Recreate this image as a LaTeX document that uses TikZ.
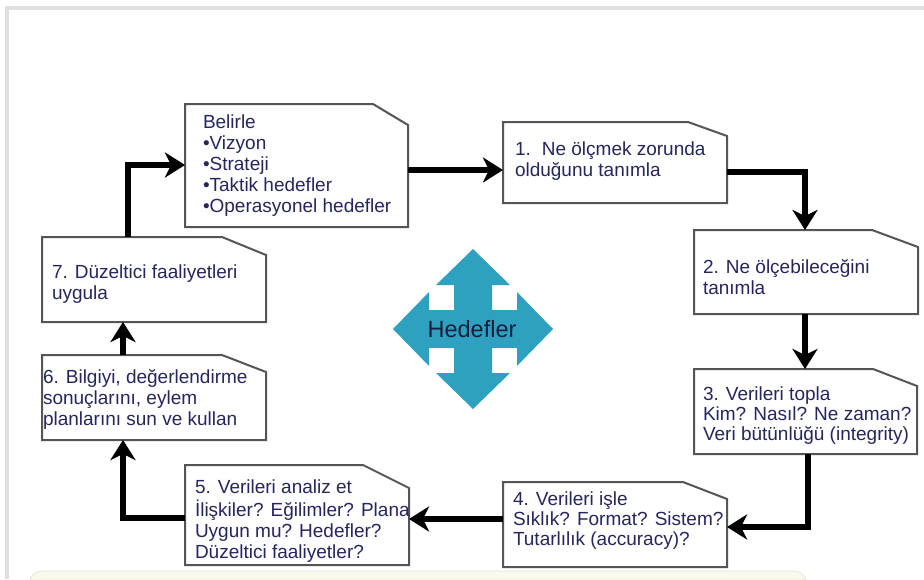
\documentclass[tikz,border=0pt]{standalone}
\usepackage{fontspec}
\setmainfont{Liberation Sans}
\usetikzlibrary{arrows.meta,calc}
\definecolor{navy}{RGB}{38,38,95}
\definecolor{boxline}{RGB}{85,85,85}
\definecolor{tealarrow}{RGB}{46,160,192}
\definecolor{framegrey}{RGB}{224,224,224}
\definecolor{stripcol}{RGB}{250,250,236}
\definecolor{hedtext}{RGB}{20,30,60}
\newcommand\snipbox[3]{\draw[boxedge] (#1.south west) -- (#1.north west) -- ([xshift=-#2]#1.north east) -- ([yshift=-#3]#1.north east) -- (#1.south east) -- cycle;}
\begin{document}
\begin{tikzpicture}[x=1pt,y=-1pt,
  box/.style={inner sep=0pt, outer sep=0pt, anchor=north west},
  boxedge/.style={draw=boxline, line width=2pt, fill=white, line join=miter},
  txt/.style={inner sep=0pt, outer sep=0pt, anchor=north west, align=left, text=navy, font=\fontsize{19}{21}\selectfont},
  txtb/.style={txt, font=\fontsize{19}{20}\selectfont},
  flow/.style={line width=6pt, -{Stealth[length=20pt,width=25pt,inset=6pt]}, line join=miter},
]
\useasboundingbox (0,0) rectangle (924,579);
% frame
\fill[framegrey] (5,6) rectangle (924,579);
\fill[white] (9,10) rectangle (924,579);
\fill[stripcol, draw=gray!25, line width=0.6pt] (30,580) .. controls (32,573) and (36,571) .. (45,571) -- (792,571) .. controls (800,571) and (804,574) .. (806,580) -- cycle;

% boxes
\node[box, minimum width=223pt, minimum height=123pt] (bB) at (185,104) {};
\node[box, minimum width=224pt, minimum height=81pt] (b1) at (503,122) {};
\node[box, minimum width=224pt, minimum height=84pt] (b2) at (694,230) {};
\node[box, minimum width=223pt, minimum height=85pt] (b3) at (694,369) {};
\node[box, minimum width=224pt, minimum height=85pt] (b4) at (503,482) {};
\node[box, minimum width=224pt, minimum height=100pt] (b5) at (185,465) {};
\node[box, minimum width=224pt, minimum height=85pt] (b6) at (42,355) {};
\node[box, minimum width=224pt, minimum height=85pt] (b7) at (42,237) {};
\snipbox{bB}{35pt}{21pt}
\snipbox{b1}{39pt}{14pt}
\snipbox{b2}{46pt}{17pt}
\snipbox{b3}{44pt}{17pt}
\snipbox{b4}{44pt}{17pt}
\snipbox{b5}{46pt}{23pt}
\snipbox{b6}{44pt}{17pt}
\snipbox{b7}{44pt}{18pt}

% texts
\node[txt] (tB) at (203,113.3) {\strut Belirle\\•Vizyon\\•Strateji\\•Taktik hedefler\\•Operasyonel hedefler};
\node[txt] (t1) at (515,140.3) {\strut 1.\hspace{11pt}Ne ölçmek zorunda\\olduğunu tanımla};
\node[txt] (t2) at (703,258.3) {\strut 2. Ne ölçebileceğini\\tanımla};
\node[txtb] (t3) at (703,386) {\strut 3. Verileri topla\\Kim? Nasıl? Ne zaman?\\Veri bütünlüğü (integrity)};
\node[txtb] (t4) at (513,491) {\strut 4. Verileri işle\\Sıklık? Format? Sistem?\\Tutarlılık (accuracy)?};
\node[txt] (t5) at (195,478.3) {\strut 5. Verileri analiz et\\İlişkiler? Eğilimler? Plana\\Uygun mu? Hedefler?\\Düzeltici faaliyetler?};
\node[txt] (t6) at (43,368.3) {\strut 6. Bilgiyi, değerlendirme\\sonuçlarını, eylem\\planlarını sun ve kullan};
\node[txt] (t7) at (52,263.3) {\strut 7. Düzeltici faaliyetleri\\uygula};

% connectors
\coordinate (kB1) at (0,170);
\coordinate (k12) at (805,172);
\coordinate (k23) at (805,0);
\coordinate (k34) at (808,527);
\coordinate (k45) at (0,519);
\coordinate (k56) at (123,518);
\coordinate (k7B) at (128,165);
\draw[flow] (bB.east |- kB1) -- (b1.west |- kB1);
\draw[flow] (b1.east |- k12) -- (k12) -- (b2.north -| k12);
\draw[flow] (b2.south -| k23) -- (b3.north -| k23);
\draw[flow] (b3.south -| k34) -- (k34) -- (b4.east |- k34);
\draw[flow] (b4.west |- k45) -- (b5.east |- k45);
\draw[flow] (b5.west |- k56) -- (k56) -- (b6.south -| k56);
\draw[flow] (b6.north -| k56) -- (b7.south -| k56);
\draw[flow] (b7.north -| k7B) -- (k7B) -- (bB.west |- k7B);

% central quad arrow
\begin{scope}[shift={(473,329)}]
\fill[tealarrow] (0,-80) -- (37,-44) -- (19,-44) -- (19,-19) -- (44,-19) -- (44,-37) -- (80,0) -- (44,37) -- (44,19) -- (19,19) -- (19,44) -- (37,44) -- (0,80) -- (-37,44) -- (-19,44) -- (-19,19) -- (-44,19) -- (-44,37) -- (-80,0) -- (-44,-37) -- (-44,-19) -- (-19,-19) -- (-19,-44) -- (-37,-44) -- cycle;
\end{scope}
\node[text=hedtext, font=\fontsize{23.5}{28}\selectfont, inner sep=0pt] (hed) at (472,329) {Hedefler};
\end{tikzpicture}
\end{document}
